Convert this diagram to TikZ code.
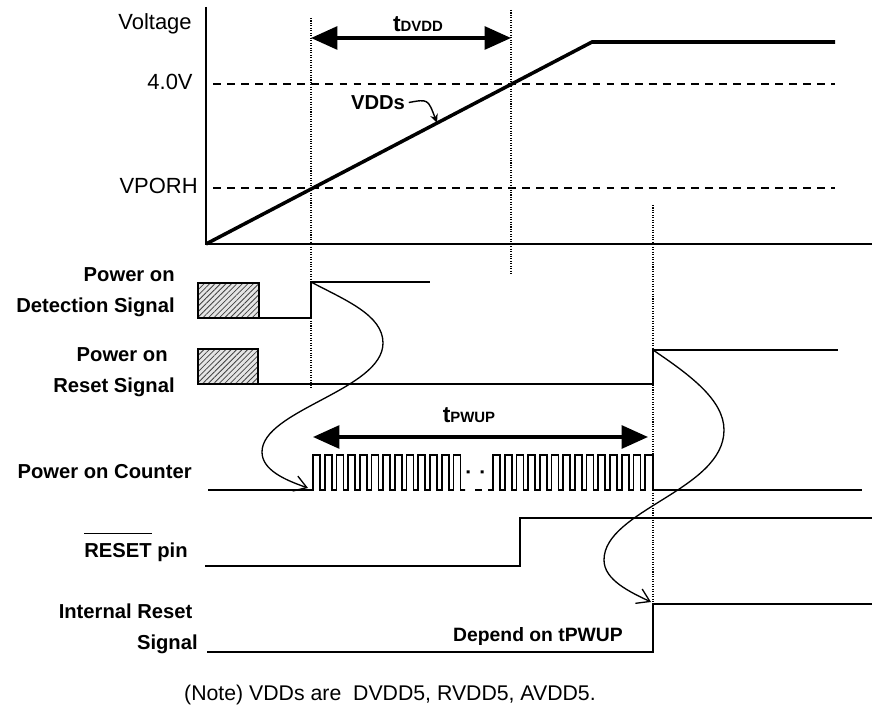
\documentclass[tikz,border=0pt]{standalone}
\usepackage{fontspec}
\setmainfont{Liberation Sans}
\usetikzlibrary{arrows.meta,patterns.meta}
\tikzset{
  sig/.style={line width=1pt,line join=miter},
  ramp/.style={line width=2pt},
  level/.style={line width=0.7pt,dash pattern=on 4.5pt off 3.5pt},
  guide/.style={line width=0.6pt,dash pattern=on 0.6pt off 0.8pt},
  span/.style={line width=1.9pt,{Triangle[length=15pt,width=13pt]}-{Triangle[length=15pt,width=13pt]}},
  cause/.style={line width=0.75pt,-{Straight Barb[length=7pt,width=9pt]}},
  hatchbox/.style={line width=1pt,preaction={fill=gray!20},pattern={Lines[angle=45,distance=2.2pt,line width=0.45pt]},pattern color=black!75},
  lbl/.style={font=\fontsize{11.5}{17.5}\selectfont\bfseries,align=right,inner sep=0pt},
  axlbl/.style={font=\fontsize{12.5}{15}\selectfont,inner sep=0pt},
}
\newsavebox\ovlbox
\newcommand{\ovl}[1]{\sbox\ovlbox{#1}\rlap{\rule[13pt]{\wd\ovlbox}{0.8pt}}\usebox\ovlbox}
\newcommand{\tlabel}[1]{{\fontsize{13}{13}\selectfont t}{\fontsize{8.5}{9}\selectfont #1}}

\begin{document}
\begin{tikzpicture}[x=0.02cm,y=-0.02cm]
  \useasboundingbox (0,0) rectangle (872,712);
  % voltage plot
  \coordinate (org) at (206,244);
  \draw[sig] (206,7) -- (org) -- (872,244);
  \draw[level] (213,84) -- (835,84);
  \draw[level] (213,188) -- (835,188);
  \draw[ramp] (org) -- (592,42) -- (835,42);
  \node[axlbl,anchor=base east] (volt) at (192,30) {Voltage};
  \node[axlbl,anchor=base east] (v40) at (193,90) {4.0V};
  \node[axlbl,anchor=base east] (vporh) at (198,194) {VPORH};
  \node[font=\fontsize{11.5}{13}\selectfont\bfseries,anchor=base,inner sep=0pt] (vdds) at (378,110) {VDDs};
  \coordinate (vddpt) at (437,123);
  \draw[line width=0.8pt,-{Stealth[length=5pt,width=4.5pt]},shorten <=2pt] (vdds.east) .. controls (428,99) .. (vddpt);
  % guides
  \draw[guide] (311,18) -- (311,388);
  \draw[guide] (511,10) -- (511,275);
  \draw[guide] (653,205) -- (653,605);
  % tDVDD
  \coordinate (dv l) at (311,38);
  \coordinate (dv r) at (511,38);
  \draw[span] (dv l) -- (dv r);
  \node[font=\bfseries,anchor=base,inner sep=0pt] (tdvdd) at (418,32) {\tlabel{DVDD}};
  % power on detection
  \draw[hatchbox] (198,283) rectangle (259,318);
  \coordinate (det up) at (311,282);
  \draw[sig] (259,318) -- (311,318) -- (det up) -- (430,282);
  \node[lbl,anchor=east] (detlbl) at (175,292) {Power on\\Detection Signal};
  % power on reset
  \draw[hatchbox] (198,349) rectangle (258,384);
  \coordinate (por up) at (653,350);
  \draw[sig] (258,384) -- (653,384) -- (por up) -- (838,350);
  \node[lbl,anchor=east] (porlbl) at (175,372) {Power on\hspace*{4pt}\\Reset Signal};
  % tPWUP
  \coordinate (pw l) at (313,437);
  \coordinate (pw r) at (648,437);
  \draw[span] (pw l) -- (pw r);
  \node[font=\bfseries,anchor=base,inner sep=0pt] (tpwup) at (469,423) {\tlabel{PWUP}};
  % counter
  \coordinate (cnt in) at (308,488);
  \draw[sig] (208,490) -- (313,490) foreach \k in {1,...,13} { -- ++(0,-35) -- ++(7,0) -- ++(0,35) -- ++(4.7,0) } -- (465,490);
  \draw[sig] (475,490) -- (482,490);
  \fill (466.5,470.5) rectangle ++(3,3) (480.5,470.5) rectangle ++(3,3);
  \draw[sig] (488,490) -- (493,490) foreach \k in {1,...,13} { -- ++(0,-35) -- ++(7,0) -- ++(0,35) -- ++(4.7,0) } -- ++(0,-35) -- (653,455) -- (653,490) -- (862,490);
  \node[lbl,anchor=base east] (cntlbl) at (192,479) {Power on Counter};
  % RESET pin
  \coordinate (pin up) at (520,518);
  \draw[sig] (205,566) -- (520,566) -- (pin up) -- (872,518);
  \node[lbl,anchor=base east] (pinlbl) at (188,557) {\ovl{RESET} pin};
  % internal reset
  \coordinate (irs up) at (653,604);
  \coordinate (irs in) at (651,602);
  \draw[sig] (207,652) -- (653,652) -- (irs up) -- (872,604);
  \node[lbl,anchor=east] (irslbl) at (198,629) {Internal Reset\hspace*{3pt}\\Signal};
  \node[font=\fontsize{11}{13}\selectfont\bfseries,anchor=base,inner sep=0pt] (dep) at (538,641) {Depend on tPWUP};
  % causes
  \draw[cause] (det up) .. controls (345,300) and (383,315) .. (383,343) .. controls (383,390) and (262,410) .. (262,452) .. controls (262,470) and (285,480) .. (cnt in);
  \draw[cause] (por up) .. controls (690,375) and (724,400) .. (724,430) .. controls (724,490) and (604,510) .. (604,560) .. controls (604,580) and (630,592) .. (irs in);
  % note
  \node[font=\fontsize{12.1}{14}\selectfont,anchor=base,inner sep=0pt] (note) at (390,700) {(Note) VDDs are~ DVDD5, RVDD5, AVDD5.};
\end{tikzpicture}
\end{document}
